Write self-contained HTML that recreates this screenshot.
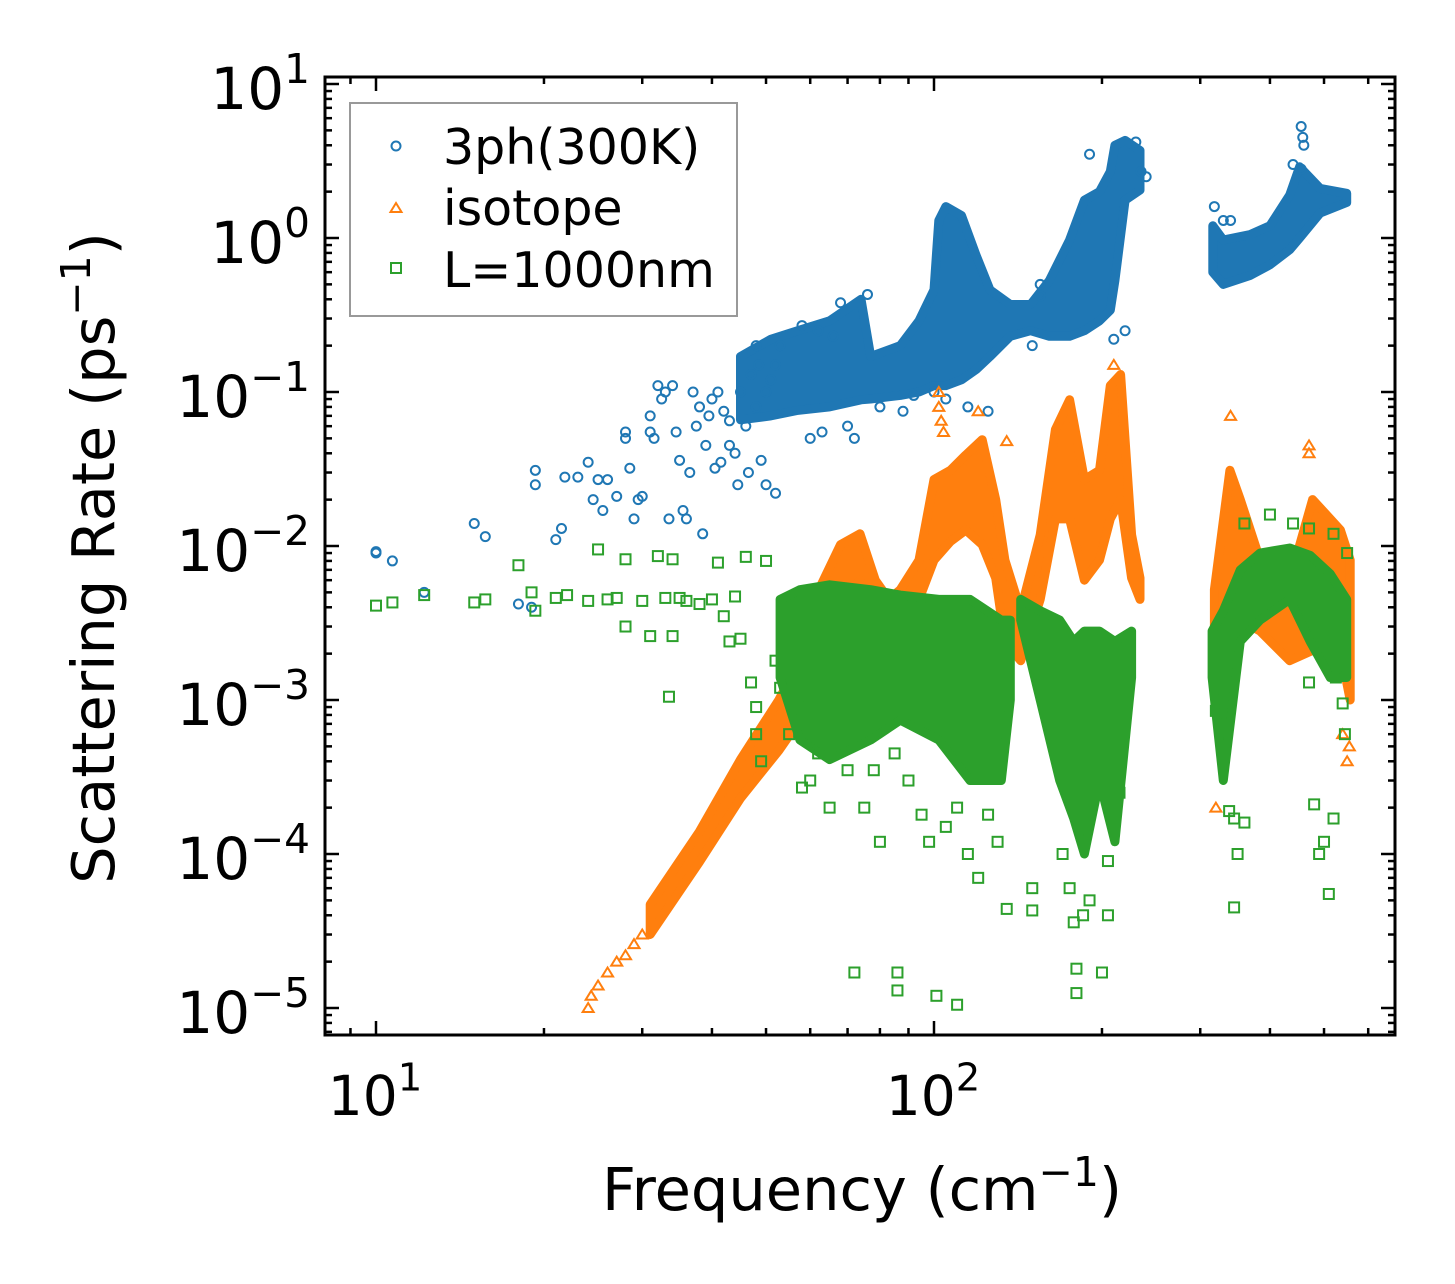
<!DOCTYPE html>
<html><head><meta charset="utf-8"><style>
html,body{margin:0;padding:0;background:#fff}
svg{display:block}
text{font-family:"DejaVu Sans","Liberation Sans",sans-serif;fill:#000}
</style></head><body>
<svg id="chart" width="1455" height="1284" viewBox="0 0 1455 1284" xmlns="http://www.w3.org/2000/svg">
<rect x="0" y="0" width="1455" height="1284" fill="#fff"/>
<defs><clipPath id="plotclip"><rect x="325" y="77" width="1070" height="958"/></clipPath></defs>
<g id="marks" clip-path="url(#plotclip)"></g>
<g id="axes"></g>
<g id="legend">
 <rect x="350" y="103" width="387" height="213" fill="#fff" fill-opacity="0.8" stroke="#999" stroke-width="2"/>
 <circle cx="396" cy="146" r="4.5" fill="none" stroke="#1f77b4" stroke-width="2"/>
 <text x="443" y="164" font-size="49">3ph(300K)</text>
 <path d="M396 203 L401.5 212 L390.5 212 Z" fill="none" stroke="#ff7f0e" stroke-width="2"/>
 <text x="443" y="225" font-size="49">isotope</text>
 <rect x="391" y="263" width="10" height="10" fill="none" stroke="#2ca02c" stroke-width="2"/>
 <text x="443" y="287" font-size="49">L=1000nm</text>
</g>
<text x="862" y="1210" font-size="59" text-anchor="middle">Frequency (cm<tspan dy="-24" font-size="41">−1</tspan><tspan dy="24">)</tspan></text>
<text transform="translate(114,558) rotate(-90)" font-size="59" text-anchor="middle">Scattering Rate (ps<tspan dy="-24" font-size="41">−1</tspan><tspan dy="24">)</tspan></text>
</svg>
<script>
// ---- axis tick data ----
const xTickExps = [1, 2];
const yTickExps = [1, 0, -1, -2, -3, -4, -5];

// ---- 3ph(300K): dense envelope (freq, low, high) ----
const phFreq = [45, 51, 57, 65, 74, 77, 87, 94, 100, 102, 105, 112, 119, 126, 137, 149, 161, 175, 186, 198, 207, 211, 220, 234];
const phLo   = [0.066, 0.07, 0.076, 0.08, 0.089, 0.09, 0.095, 0.1, 0.11, 0.11, 0.11, 0.12, 0.14, 0.17, 0.23, 0.25, 0.23, 0.23, 0.25, 0.29, 0.34, 0.53, 1.76, 2.05];
const phHi   = [0.17, 0.22, 0.25, 0.29, 0.4, 0.17, 0.2, 0.29, 0.46, 1.3, 1.6, 1.4, 0.77, 0.46, 0.37, 0.37, 0.53, 0.97, 1.76, 2.0, 2.7, 4.0, 4.3, 3.7];
const ph2Freq = [316, 330, 368, 400, 434, 452, 492, 549];
const ph2Lo   = [0.6, 0.5, 0.57, 0.67, 0.84, 1.0, 1.45, 1.7];
const ph2Hi   = [1.2, 0.97, 1.05, 1.2, 1.9, 2.9, 2.1, 1.95];
// ---- 3ph sparse points ----
const phPtF = [10,10,10.7,12.2,15,15.7,18,19,19.3,19.3,21,21.5,21.8,23,24,24.5,25,25.5,26,27,28,28,28.5,29,29.5,30,31,31,31.5,32,32.5,33,33.5,34,34.5,35,35.5,36,36.5,37,37.5,38,38.5,39,39.5,40,40.5,41,41.5,42,43,43,44,44.5,45,46,46.5,47,48,48,48.5,49,50,50,51,52,52,53,58,62,66,68,76,60,63,70,72,80,88,92,100,105,115,125,150,155,155,190,210,220,230,235,240,318,330,340,455,458,460,455,440];
const phPtR = [0.009,0.0092,0.008,0.005,0.014,0.0115,0.0042,0.004,0.031,0.025,0.011,0.013,0.028,0.028,0.035,0.02,0.027,0.017,0.027,0.021,0.05,0.055,0.032,0.015,0.02,0.021,0.055,0.07,0.05,0.11,0.09,0.1,0.015,0.11,0.055,0.036,0.017,0.015,0.03,0.1,0.06,0.08,0.012,0.045,0.07,0.09,0.032,0.1,0.035,0.075,0.065,0.045,0.04,0.025,0.1,0.06,0.03,0.13,0.2,0.08,0.15,0.036,0.1,0.025,0.12,0.022,0.15,0.2,0.27,0.25,0.23,0.38,0.43,0.05,0.055,0.06,0.05,0.08,0.075,0.095,0.1,0.09,0.08,0.075,0.2,0.5,0.42,3.5,0.22,0.25,4.2,2.7,2.5,1.6,1.3,1.3,5.3,4.5,4.0,2.8,3.0];

// ---- isotope: dense envelope ----
const isoFreq = [31, 38, 45, 52.7, 57.5, 62.2, 68, 73.7, 78.5, 83, 87, 94, 100, 107, 114, 122, 129, 134, 143, 155, 165, 175, 186, 198, 207, 216, 226, 234];
const isoLo   = [3.0e-5, 8.9e-5, 2.3e-4, 4.7e-4, 7.4e-4, 2.1e-3, 4.5e-3, 6.0e-3, 3.3e-3, 2.6e-3, 2.8e-3, 4.5e-3, 8.1e-3, 0.0107, 0.0127, 0.0102, 0.0062, 0.0024, 0.0018, 0.0045, 0.015, 0.015, 0.006, 0.0081, 0.015, 0.02, 0.0062, 0.0045];
const isoHi   = [4.7e-5, 1.4e-4, 4.1e-4, 1.0e-3, 1.8e-3, 5.2e-3, 0.0102, 0.012, 0.006, 0.0045, 0.0052, 0.0081, 0.027, 0.031, 0.039, 0.049, 0.02, 0.0081, 0.0038, 0.0118, 0.057, 0.089, 0.027, 0.031, 0.11, 0.13, 0.0118, 0.0062];
const iso2Freq = [318, 339, 354, 384, 434, 477, 535, 557];
const iso2Lo   = [2.4e-3, 4.5e-3, 3.3e-3, 2.8e-3, 1.8e-3, 2.1e-3, 2.1e-3, 1.0e-3];
const iso2Hi   = [5.2e-3, 0.031, 0.02, 0.0081, 0.006, 0.02, 0.0127, 0.0081];
const isoPtF = [24, 24.3, 25, 26, 27, 28, 29, 30, 102, 102, 103, 104, 120, 135, 210, 340, 320, 470, 470, 540, 550, 555];
const isoPtR = [1e-5, 1.2e-5, 1.4e-5, 1.7e-5, 2e-5, 2.2e-5, 2.6e-5, 3e-5, 0.1, 0.08, 0.065, 0.055, 0.075, 0.048, 0.15, 0.07, 2e-4, 0.045, 0.04, 6e-4, 4e-4, 5e-4];

// ---- L=1000nm boundary: dense envelope ----
const bdFreq = [53, 57.5, 65, 77, 87, 102, 116, 132, 137];
const bdLo   = [1.4e-3, 5.5e-4, 4.1e-4, 5.5e-4, 7.4e-4, 5.5e-4, 3.0e-4, 3.0e-4, 1.0e-3];
const bdHi   = [4.5e-3, 5.2e-3, 5.6e-3, 5.2e-3, 4.8e-3, 4.5e-3, 4.5e-3, 3.3e-3, 3.3e-3];
const bd2Freq = [143, 155, 168, 178, 186, 198, 211, 226];
const bd2Lo   = [3.3e-3, 1.0e-3, 3.0e-4, 1.7e-4, 1.0e-4, 3.0e-4, 1.2e-4, 1.4e-3];
const bd2Hi   = [4.5e-3, 3.8e-3, 3.3e-3, 2.4e-3, 2.8e-3, 2.8e-3, 2.4e-3, 2.8e-3];
const bd3Freq = [315, 330, 354, 384, 434, 472, 513, 549];
const bd3Lo   = [1.4e-3, 3.0e-4, 2.4e-3, 3.3e-3, 4.5e-3, 2.4e-3, 1.4e-3, 1.4e-3];
const bd3Hi   = [2.8e-3, 3.8e-3, 7.0e-3, 9.0e-3, 0.0097, 0.0087, 0.0066, 4.5e-3];
const bdPtF = [10,10.7,12.2,15,15.7,18,19,19.3,21,22,24,25,26,27,28,28,30,31,32,33,34,34,35,36,33.5,38,40,41,42,43,44,45,46,47,48,48,49,50,52,53,55,57,58,60,62,65,70,72,75,78,80,85,86,86,90,95,98,101,105,110,110,115,120,125,130,135,150,150,170,175,178,180,180,185,190,200,205,205,215,220,320,330,338,345,350,360,345,470,480,490,500,520,510,540,545,525,440,470,520,360,400,550];
const bdPtR = [0.0041,0.0043,0.0048,0.0043,0.0045,0.0075,0.005,0.0038,0.0046,0.0048,0.0044,0.0095,0.0045,0.0046,0.003,0.0082,0.0044,0.0026,0.0086,0.0046,0.0026,0.0082,0.0046,0.0044,0.00105,0.0042,0.0045,0.0078,0.0035,0.0024,0.0047,0.0025,0.0085,0.0013,0.0009,0.0006,0.0004,0.008,0.0018,0.0012,0.0006,0.0009,0.00027,0.0003,0.00045,0.0002,0.00035,1.7e-5,0.0002,0.00035,0.00012,0.00045,1.7e-5,1.3e-5,0.0003,0.00018,0.00012,1.2e-5,0.00015,1.05e-5,0.0002,0.0001,7e-5,0.00018,0.00012,4.4e-5,6e-5,4.3e-5,1e-4,6e-5,3.6e-5,1.8e-5,1.25e-5,4e-5,5e-5,1.7e-5,4e-5,9e-5,0.00025,0.0011,0.00085,0.0008,0.00019,0.00017,0.0001,0.00016,4.5e-5,0.0013,0.00021,0.0001,0.00012,0.00017,5.5e-5,0.00095,0.0006,0.0014,0.014,0.013,0.012,0.014,0.016,0.009];

// ---- scales ----
const X = f => 376 + 558 * (Math.log10(f) - 1);
const Y = r => 238 - 154 * Math.log10(r);
const NS = 'http://www.w3.org/2000/svg';
const marks = document.getElementById('marks');
const axes = document.getElementById('axes');

function band(fr, lo, hi, color, name) {
  let pts = [];
  for (let i = 0; i < fr.length; i++) pts.push(X(fr[i]).toFixed(1) + ',' + Y(hi[i]).toFixed(1));
  for (let i = fr.length - 1; i >= 0; i--) pts.push(X(fr[i]).toFixed(1) + ',' + Y(lo[i]).toFixed(1));
  const p = document.createElementNS(NS, 'polygon');
  p.setAttribute('points', pts.join(' '));
  p.setAttribute('fill', color);
  p.setAttribute('stroke', color);
  p.setAttribute('stroke-width', '9');
  p.setAttribute('stroke-linejoin', 'round');
  
  
  marks.appendChild(p);
}
function points(fr, rr, shape, color, name) {
  for (let i = 0; i < fr.length; i++) {
    const x = X(fr[i]), y = Y(rr[i]);
    let el;
    if (shape === 'circle') {
      el = document.createElementNS(NS, 'circle');
      el.setAttribute('cx', x); el.setAttribute('cy', y); el.setAttribute('r', 4.5);
    } else if (shape === 'tri') {
      el = document.createElementNS(NS, 'path');
      el.setAttribute('d', `M${x} ${y-5} L${x+5.5} ${y+4} L${x-5.5} ${y+4} Z`);
    } else {
      el = document.createElementNS(NS, 'rect');
      el.setAttribute('x', x - 5); el.setAttribute('y', y - 5);
      el.setAttribute('width', 10); el.setAttribute('height', 10);
    }
    el.setAttribute('fill', 'none');
    el.setAttribute('stroke', color);
    el.setAttribute('stroke-width', '2');
    
    
    marks.appendChild(el);
  }
}
const C1 = '#1f77b4', C2 = '#ff7f0e', C3 = '#2ca02c';
band(phFreq, phLo, phHi, C1, '3ph-dense-band');
band(ph2Freq, ph2Lo, ph2Hi, C1, '3ph-dense-band-high');
points(phPtF, phPtR, 'circle', C1, '3ph-point');
band(isoFreq, isoLo, isoHi, C2, 'isotope-dense-band');
band(iso2Freq, iso2Lo, iso2Hi, C2, 'isotope-dense-band-high');
points(isoPtF, isoPtR, 'tri', C2, 'isotope-point');
band(bdFreq, bdLo, bdHi, C3, 'boundary-dense-band');
band(bd2Freq, bd2Lo, bd2Hi, C3, 'boundary-dense-band-mid');
band(bd3Freq, bd3Lo, bd3Hi, C3, 'boundary-dense-band-high');
points(bdPtF, bdPtR, 'sq', C3, 'boundary-point');

// ---- axes frame and ticks ----
const L = 325, R = 1395, T = 77, B = 1035;
function line(x1, y1, x2, y2, w, name) {
  const l = document.createElementNS(NS, 'line');
  l.setAttribute('x1', x1); l.setAttribute('y1', y1); l.setAttribute('x2', x2); l.setAttribute('y2', y2);
  l.setAttribute('stroke', '#000'); l.setAttribute('stroke-width', w);
  
  
  axes.appendChild(l);
}
for (let e = 0; e <= 2; e++) {
  for (let m = 1; m <= 9; m++) {
    const x = X(m * Math.pow(10, e));
    if (x < L || x > R) continue;
    const len = m === 1 ? 14 : 7;
    line(x, B, x, B - len, 2.5, 'x-tick');
    line(x, T, x, T + len, 2.5, 'x-tick-top');
  }
}
for (let e = -6; e <= 1; e++) {
  for (let m = 1; m <= 9; m++) {
    const y = Y(m * Math.pow(10, e));
    if (y < T || y > B) continue;
    const len = m === 1 ? 14 : 7;
    line(L, y, L + len, y, 2.5, 'y-tick');
    line(R, y, R - len, y, 2.5, 'y-tick-right');
  }
}
const frame = document.createElementNS(NS, 'rect');
frame.setAttribute('x', L); frame.setAttribute('y', T);
frame.setAttribute('width', R - L); frame.setAttribute('height', B - T);
frame.setAttribute('fill', 'none'); frame.setAttribute('stroke', '#000'); frame.setAttribute('stroke-width', '3');


axes.appendChild(frame);

function expLabel(x, y, exp, anchor, size, name) {
  const t = document.createElementNS(NS, 'text');
  t.setAttribute('x', x); t.setAttribute('y', y);
  t.setAttribute('font-size', size);
  t.setAttribute('text-anchor', anchor);
  
  
  const s = String(exp).replace('-', '−');
  t.innerHTML = `10<tspan dy="${-0.45 * size}" font-size="${0.7 * size}">${s}</tspan>`;
  axes.appendChild(t);
}
xTickExps.forEach(e => expLabel(X(Math.pow(10, e)) - 1, 1115, e, 'middle', 55, 'x-tick-label'));
yTickExps.forEach(e => expLabel(310, Y(Math.pow(10, e)) + 25, e, 'end', 58, 'y-tick-label'));
</script>
</body></html>
